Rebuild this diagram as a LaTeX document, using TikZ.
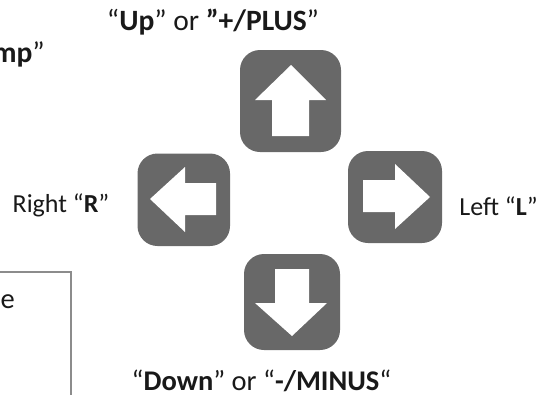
\documentclass[tikz,border=0pt]{standalone}
\usepackage{fontspec}
\setmainfont{Carlito}
\tikzset{
  lbl/.style={inner sep=0pt,text=black!90,anchor=base},
  big/.style={font=\fontsize{29.5pt}{34pt}\selectfont},
  mid/.style={font=\fontsize{28.5pt}{32pt}\selectfont},
  small/.style={font=\fontsize{26pt}{30pt}\selectfont},
  pad/.style={fill=padgray,draw=none,rounded corners=20pt},
  arrowshape/.style={fill=white,draw=none}
}
\definecolor{padgray}{RGB}{104,104,104}
\definecolor{boxgray}{RGB}{140,140,140}
\begin{document}
\begin{tikzpicture}[x=1pt,y=-1pt]
\useasboundingbox (0,0) rectangle (537,394);
\clip (0,0) rectangle (537,394);
% up
\path[pad] (240,50) rectangle (341,152);
\path[arrowshape] (291,65) -- (326,100) -- (309,100) -- (309,136) -- (272,136) -- (272,100) -- (255,100) -- cycle;
% left-pointing
\path[pad] (137.5,153.5) rectangle (230,246);
\path[arrowshape] (150,199) -- (185,167) -- (185,183) -- (216,183) -- (216,215) -- (185,215) -- (185,232) -- cycle;
% right-pointing
\path[pad] (348,151) rectangle (442,243);
\path[arrowshape] (430,197) -- (395,164) -- (395,180) -- (363,180) -- (363,212) -- (395,212) -- (395,229) -- cycle;
% down
\path[pad] (244,254) rectangle (340,350);
\path[arrowshape] (292,336) -- (327,303) -- (309,303) -- (309,269) -- (275,269) -- (275,303) -- (255,303) -- cycle;
% box
\draw[boxgray,line width=2pt] (-5,272) -- (70.7,272) -- (70.7,400);
% labels
\node[lbl,big] (up) at (213,30) {“\textbf{Up}” or \textbf{”+/PLUS}”};
\node[lbl,big,anchor=base east] (jump) at (45,62) {\textbf{mp}”};
\node[lbl,small] (right) at (61,212.5) {Right “\textbf{R}”};
\node[lbl,small] (left) at (498.5,215) {Left “\textbf{L}”};
\node[lbl,mid] (down) at (261.5,390) {“\textbf{Down}” or “\textbf{-/MINUS}“};
\node[lbl,mid,anchor=base east] (ne) at (15,308) {ne};
\end{tikzpicture}
\end{document}
